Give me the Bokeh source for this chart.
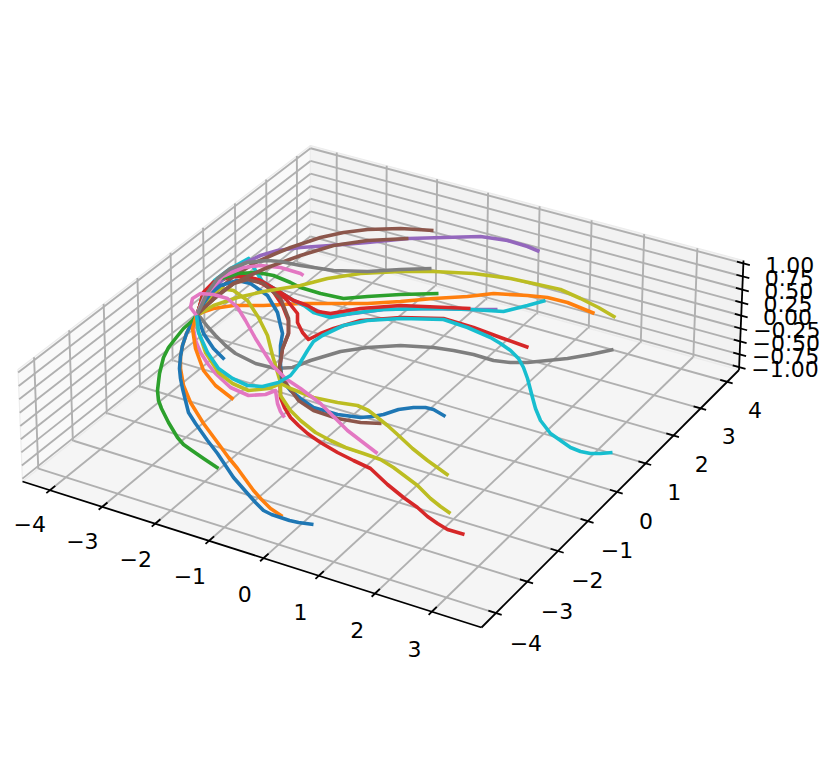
import numpy as np
from bokeh.plotting import figure
from bokeh.embed import file_html
from bokeh.resources import INLINE
from bokeh.core.properties import value

# ---- tick labels
x_ticks = [-4, -3, -2, -1, 0, 1, 2, 3]
y_ticks = [-4, -3, -2, -1, 0, 1, 2, 3, 4]
z_ticks = [-1.0, -0.75, -0.5, -0.25, 0.0, 0.25, 0.5, 0.75, 1.0]
z_labels = ["\u22121.00", "\u22120.75", "\u22120.50", "\u22120.25", "0.00", "0.25", "0.50", "0.75", "1.00"]

# ---- series (projected position on the page)
blue1_x = [196, 191, 186, 182, 180, 179, 180, 182, 188, 195, 207, 217, 225, 233, 240, 247, 255, 263, 271, 280, 289, 298, 313]
blue1_y = [315, 323, 333, 345, 356, 368, 378, 388, 412, 423, 440, 453, 465, 477, 485, 493, 502, 510, 514, 517, 520, 522, 524]
orange1_x = [196, 191, 186, 182, 180, 180, 183, 190, 203, 220, 228, 237, 245, 253, 261, 270, 282]
orange1_y = [315, 323, 333, 345, 356, 368, 385, 402, 423, 446, 457, 468, 479, 490, 499, 508, 516]
green1_x = [196, 192, 183, 175, 168, 163, 159, 157, 158, 161, 168, 177, 183, 190, 203, 218]
green1_y = [315, 320, 328, 338, 347, 357, 373, 390, 400, 408, 422, 437, 444, 449, 458, 468]
red1_x = [196, 198, 203, 213, 230, 247, 260, 272, 282, 288, 288, 282, 279, 280, 284, 290, 298, 307, 320, 337, 353, 370, 387, 403, 417, 427, 437, 447, 464]
red1_y = [315, 310, 292, 282, 276, 276, 280, 290, 305, 320, 333, 348, 367, 397, 407, 417, 425, 433, 442, 452, 460, 468, 484, 497, 507, 516, 523, 529, 534]
purple1_x = [196, 200, 213, 230, 243, 260, 277, 300, 330, 367, 408, 443, 480, 507, 527, 539]
purple1_y = [315, 312, 288, 272, 263, 255, 250, 247, 245, 242, 238, 237, 236, 240, 246, 251]
brown1_x = [196, 202, 217, 233, 255, 273, 290, 320, 343, 367, 400, 433]
brown1_y = [315, 307, 290, 276, 262, 254, 247, 237, 232, 229, 228, 230]
pink1_x = [196, 193, 195, 200, 207, 215, 230, 248, 265, 275, 277, 280, 284]
pink1_y = [315, 328, 340, 352, 363, 373, 387, 395, 394, 390, 403, 411, 417]
gray1_x = [196, 200, 207, 215, 225, 235, 255, 275, 292, 310, 320, 340, 367, 400, 433, 453, 473, 493, 510, 527, 567, 590, 613]
gray1_y = [314, 317, 326, 335, 345, 353, 363, 368, 367, 360, 357, 351, 347, 345, 347, 350, 354, 360, 362, 362, 358, 354, 349]
olive1_x = [196, 198, 204, 212, 220, 233, 247, 258, 267, 272, 280, 280, 290, 300, 315, 330, 345, 363, 380, 393, 405, 417, 430, 440, 450]
olive1_y = [315, 312, 304, 293, 288, 290, 300, 317, 335, 355, 382, 395, 410, 420, 432, 440, 447, 453, 459, 467, 476, 485, 498, 506, 513]
cyan1_x = [196, 197, 198, 207, 218, 232, 247, 262, 278, 290, 298, 307, 313, 322, 343, 367, 400, 443, 467, 490, 500, 510, 518, 523, 527, 532, 535, 540, 550, 570, 580, 590, 600, 612]
cyan1_y = [315, 322, 332, 352, 368, 378, 385, 386, 382, 375, 365, 350, 341, 335, 325, 320, 318, 319, 327, 337, 343, 350, 358, 367, 378, 397, 408, 420, 433, 447, 451, 453, 453, 452]
blue2_x = [196, 203, 210, 220, 237, 250, 267, 277, 280, 282, 280, 280, 281, 285, 290, 300, 313, 337, 360, 372, 383, 398, 413, 425, 433, 445]
blue2_y = [315, 303, 293, 285, 280, 283, 295, 312, 325, 333, 345, 365, 377, 384, 390, 398, 407, 414, 417, 416, 414, 409, 407, 407, 409, 416]
orange2_x = [196, 204, 213, 233, 263, 300, 333, 367, 400, 433, 467, 493, 527, 547, 567, 594]
orange2_y = [315, 311, 308, 305, 305, 303, 303, 303, 301, 298, 296, 293, 295, 297, 302, 313]
green2_x = [196, 203, 218, 237, 257, 273, 290, 300, 320, 343, 367, 400, 438]
green2_y = [315, 297, 279, 273, 272, 275, 282, 287, 293, 298, 296, 294, 293]
red2_x = [196, 198, 203, 213, 230, 247, 263, 285, 297, 297, 302, 308, 320, 333, 360, 400, 443, 473, 500, 528]
red2_y = [315, 310, 292, 282, 276, 276, 284, 298, 313, 322, 332, 339, 333, 328, 320, 317, 318, 327, 337, 347]
purple2_x = [196, 205, 230, 262, 293, 330, 383, 433, 470, 497]
purple2_y = [315, 295, 272, 281, 300, 316, 309, 308, 309, 309]
brown2_x = [196, 204, 217, 233, 247, 263, 280, 288, 288, 282, 279, 282, 287, 298, 313, 337, 360, 381]
brown2_y = [315, 307, 295, 283, 279, 283, 298, 318, 333, 348, 367, 377, 385, 400, 410, 418, 422, 423]
pink2_x = [196, 190, 192, 200, 213, 227, 237, 245, 255, 272, 285, 300, 320, 333, 347, 360, 377]
pink2_y = [315, 307, 298, 293, 294, 298, 307, 320, 338, 365, 378, 388, 403, 416, 430, 440, 453]
gray2_x = [196, 201, 207, 217, 230, 247, 267, 280, 300, 333, 367, 400, 431]
gray2_y = [315, 305, 292, 278, 268, 262, 260, 261, 265, 270, 271, 269, 268]
olive2_x = [196, 213, 237, 263, 300, 327, 360, 400, 433, 473, 510, 533, 560, 580, 598, 615]
olive2_y = [315, 305, 297, 291, 285, 278, 273, 271, 271, 273, 278, 283, 289, 298, 307, 317]
cyan2_x = [196, 203, 214, 230, 248, 255, 262, 277, 293, 305, 313, 330, 350, 383, 433, 470, 503, 527, 545]
cyan2_y = [315, 296, 280, 268, 258, 270, 281, 290, 300, 306, 312, 317, 313, 309, 308, 309, 311, 305, 300]
blue3_x = [197, 203, 213, 224]
blue3_y = [315, 333, 348, 359]
orange3_x = [196, 192, 195, 203, 215, 233]
orange3_y = [315, 328, 348, 370, 385, 399]
red3_x = [196, 198, 203, 213, 233, 260, 277, 293, 307, 317, 330, 360, 400, 470]
red3_y = [315, 310, 292, 282, 274, 280, 290, 300, 305, 311, 313, 308, 305, 308]
brown3_x = [196, 204, 217, 233, 247, 267, 300, 333, 367, 408]
brown3_y = [315, 307, 295, 283, 276, 267, 255, 245, 240, 238]
pink3_x = [196, 204, 222, 243, 260, 280, 300, 303]
pink3_y = [315, 296, 276, 267, 265, 267, 273, 275]
olive3_x = [196, 197, 205, 218, 232, 248, 268, 280, 290, 313, 337, 357, 368, 377, 387, 397, 412, 427, 448]
olive3_y = [315, 328, 352, 372, 383, 390, 388, 383, 388, 397, 402, 405, 410, 417, 425, 434, 448, 460, 475]

series = [
    (orange1_x, orange1_y, "#ff7f0e"), (blue1_x, blue1_y, "#1f77b4"), (green1_x, green1_y, "#2ca02c"),
    (orange2_x, orange2_y, "#ff7f0e"), (purple2_x, purple2_y, "#9467bd"), (cyan2_x, cyan2_y, "#17becf"),
    (red1_x, red1_y, "#d62728"), (red2_x, red2_y, "#d62728"), (red3_x, red3_y, "#d62728"),
    (purple1_x, purple1_y, "#9467bd"), (brown1_x, brown1_y, "#8c564b"),
    (pink1_x, pink1_y, "#e377c2"), (gray1_x, gray1_y, "#7f7f7f"), (olive1_x, olive1_y, "#bcbd22"),
    (blue2_x, blue2_y, "#1f77b4"), (green2_x, green2_y, "#2ca02c"),
    (brown2_x, brown2_y, "#8c564b"),
    (pink3_x, pink3_y, "#e377c2"), (olive2_x, olive2_y, "#bcbd22"),
    (orange3_x, orange3_y, "#ff7f0e"), (brown3_x, brown3_y, "#8c564b"), (gray2_x, gray2_y, "#7f7f7f"),
    (olive3_x, olive3_y, "#bcbd22"), (pink2_x, pink2_y, "#e377c2"),
    (blue3_x, blue3_y, "#1f77b4"), (cyan1_x, cyan1_y, "#17becf"),
]

# ---- view of the 3D box on the page
XL, XH, YL, YH, ZL, ZH = -4.53, 3.86, -4.45, 4.45, -1.055, 1.055
A, B, C, D = (22, 481), (481, 627), (738.5, 369.5), (310, 251)
At, Ct, Dt = (17.5, 369), (743, 260), (310, 145)


def homography(src, dst):
    rows = []
    for (u, v), (s, t) in zip(src, dst):
        rows.append([u, v, 1, 0, 0, 0, -s * u, -s * v, -s])
        rows.append([0, 0, 0, u, v, 1, -t * u, -t * v, -t])
    return np.linalg.svd(np.array(rows, float))[2][-1].reshape(3, 3)


def ap(H, u, v):
    q = H @ np.array([u, v, 1.0])
    return q[0] / q[2], q[1] / q[2]


floor = homography([(XL, YL), (XH, YL), (XH, YH), (XL, YH)], [A, B, C, D])
left = homography([(YL, ZL), (YH, ZL), (YH, ZH), (YL, ZH)], [A, D, Dt, At])
back = homography([(XL, ZL), (XH, ZL), (XH, ZH), (XL, ZH)], [D, C, Ct, Dt])

p = figure(width=830, height=758, x_range=(0, 830), y_range=(758, 0), output_backend="svg",
           toolbar_location=None, min_border=0, outline_line_color=None, background_fill_color="white")
p.xaxis.visible = False
p.yaxis.visible = False
p.grid.visible = False

EDGE = "#ececec"
for corners, col in [((A, D, Dt, At), "#f9f9f9"), ((D, C, Ct, Dt), "#f2f2f2"), ((A, B, C, D), "#f5f5f5")]:
    p.patch([c[0] for c in corners], [c[1] for c in corners], fill_color=col, line_color=EDGE, line_width=1.2)

GRID = "#b0b0b0"
GW = 1.9


def seg(H, a, b, color=GRID, w=GW):
    s, e = ap(H, *a), ap(H, *b)
    p.line([s[0], e[0]], [s[1], e[1]], line_color=color, line_width=w)


for t in x_ticks:
    seg(floor, (t, YL), (t, YH))
    seg(back, (t, ZL), (t, ZH))
for t in y_ticks:
    seg(floor, (XL, t), (XH, t))
    seg(left, (t, ZL), (t, ZH))
for t in z_ticks:
    seg(left, (YL, t), (YH, t))
    seg(back, (XL, t), (XH, t))

# axis lines
for a, b in [(A, B), (B, C), (C, Ct)]:
    p.line([a[0], b[0]], [a[1], b[1]], line_color="black", line_width=1.8)

# ticks
LAB = dict(text_font=value("DejaVu Sans"), text_font_size="22px", text_align="center",
           text_baseline="middle", text_color="black")
for t in x_ticks:
    seg(floor, (t, YL - 0.1), (t, YL + 0.15), "black", 1.8)
    lx, ly = ap(floor, t, YL - 0.95)
    p.text([lx + 14], [ly + 6.5], text=[str(t).replace("-", "\u2212")], **LAB)
for t in y_ticks:
    seg(floor, (XH - 0.13, t), (XH + 0.1, t), "black", 1.8)
    lx, ly = ap(floor, XH + 0.55, t)
    p.text([lx - 2], [ly + 19.5], text=[str(t).replace("-", "\u2212")], **LAB)
for t, lab in zip(z_ticks, z_labels):
    a = ap(back, XH - 0.12, t)
    b = ap(back, XH + 0.12, t)
    p.line([a[0], b[0]], [a[1], b[1]], line_color="black", line_width=1.8)
    lx, ly = ap(back, XH + 0.95, t)
    p.text([lx - 5], [ly - 12], text=[lab], **LAB)

# series
for sx, sy, col in series:
    p.line(sx, sy, line_color=col, line_width=3.6, line_join="round", line_cap="butt")

open("out.html", "w").write(file_html(p, INLINE))
